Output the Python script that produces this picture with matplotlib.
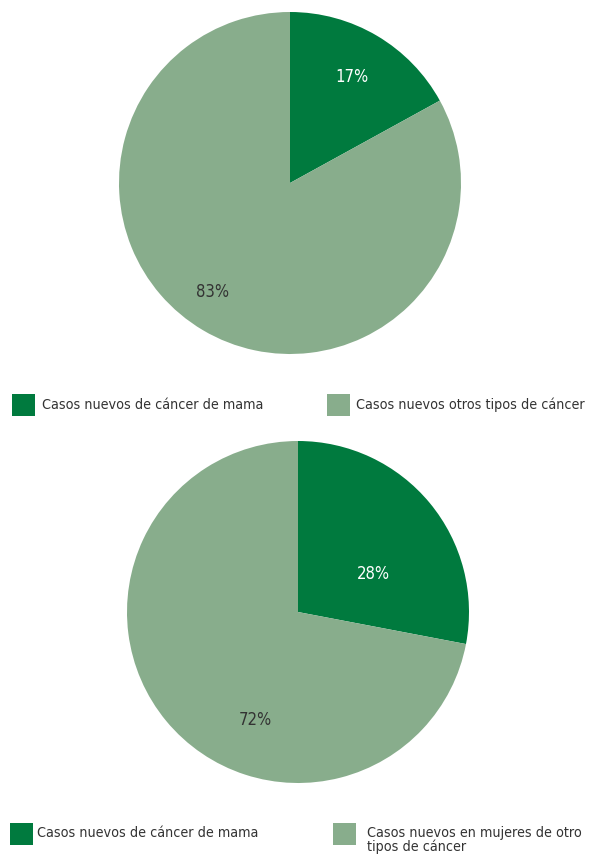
import matplotlib
matplotlib.use("Agg")
from matplotlib import pyplot as plt
from matplotlib.patches import Rectangle

plt.rcParams['font.family'] = ['DejaVu Sans']
plt.rcParams['font.stretch'] = 'condensed'

# data
top_values = [17, 83]
top_pct = ["17%", "83%"]
top_labels = ["Casos nuevos de cáncer de mama", "Casos nuevos otros tipos de cáncer"]

bottom_values = [28, 72]
bottom_pct = ["28%", "72%"]
bottom_labels = ["Casos nuevos de cáncer de mama", "Casos nuevos en mujeres de otro\ntipos de cáncer"]

colors = ["#007a3e", "#88ad8c"]
text_colors = ["white", "#333333"]

fig = plt.figure(figsize=(5.89, 8.56), dpi=100)

def draw_pie(rect, values, pcts, label_pos):
    ax = fig.add_axes(rect)
    ax.pie(values, colors=colors, startangle=90, counterclock=False,
           wedgeprops=dict(linewidth=0))
    ax.set_xlim(-1, 1)
    ax.set_ylim(-1, 1)
    ax.set_aspect('equal')
    ax.axis('off')
    for (x, y), t, c in zip(label_pos, pcts, text_colors):
        ax.text(x, y, t, color=c, fontsize=12, ha='center', va='center')
    return ax

draw_pie([119/589, 1 - 354/856, 342/589, 342/856], top_values, top_pct,
         [(0.36, 0.62), (-0.45, -0.64)])
draw_pie([127/589, 1 - 783/856, 342/589, 342/856], bottom_values, bottom_pct,
         [(0.44, 0.22), (-0.25, -0.63)])

def draw_legend(y_px, items, labels):
    for (x_px, tx_px, ty_px), label, c in zip(items, labels, colors):
        fig.add_artist(Rectangle((x_px/589, 1 - (y_px + 11)/856), 23/589, 22/856,
                                 transform=fig.transFigure, color=c, lw=0))
        fig.text(tx_px/589, 1 - ty_px/856, label, fontsize=10.3, color="#333333",
                 ha='left', va='center', linespacing=0.93)

draw_legend(405, [(12, 42, 405), (327, 356, 405)], top_labels)
draw_legend(834, [(10, 37, 833), (333, 367, 840)], bottom_labels)

fig.savefig("out.png", dpi=100)
